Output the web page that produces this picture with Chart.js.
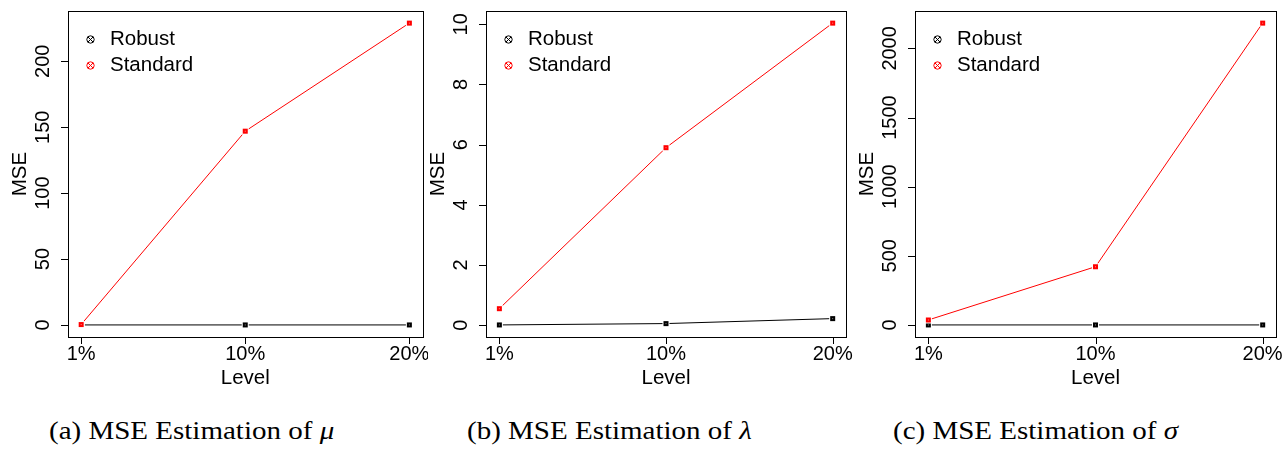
<!DOCTYPE html>
<html>
<head>
<meta charset="utf-8">
<script src="https://cdn.jsdelivr.net/npm/chart.js@4.4.1/dist/chart.umd.min.js"></script>
<style>
  body { margin: 0; background: #fff; width: 1284px; height: 450px; overflow: hidden; position: relative; }
  .pnl { position: absolute; top: 0; }
  .cap { position: absolute; top: 417px; font-family: "Liberation Serif", serif; font-size: 25px; white-space: nowrap;
         color: #000; transform: scaleX(1.16); transform-origin: left top; }
</style>
</head>
<body>
<canvas class="pnl" id="c0" width="428" height="400" style="left:0"></canvas>
<canvas class="pnl" id="c1" width="428" height="400" style="left:428px"></canvas>
<canvas class="pnl" id="c2" width="429" height="400" style="left:855px"></canvas>
<div class="cap" style="left:49px">(a) MSE Estimation of <i>μ</i></div>
<div class="cap" style="left:467px">(b) MSE Estimation of <i>λ</i></div>
<div class="cap" style="left:893px">(c) MSE Estimation of <i>σ</i></div>

<script>
// valores
const levels = ['1%', '10%', '20%'];

const robustMu = [0, 0, 0];
const standardMu = [0.3, 147, 229];
const ticksMu = [0, 50, 100, 150, 200];

const robustLambda = [0.01, 0.055, 0.22];
const standardLambda = [0.55, 5.9, 10.04];
const ticksLambda = [0, 2, 4, 6, 8, 10];

const robustSigma = [0, 0, 0];
const standardSigma = [36, 421, 2183];
const ticksSigma = [0, 500, 1000, 1500, 2000];

const TICK_FONT = '20px "Liberation Sans", Arial, sans-serif';
const LAB_FONT = '20.5px "Liberation Sans", Arial, sans-serif';

// marcador de datos: cuadradito con hueco blanco alrededor (type="b" de R)
function pointMarker(color) {
    const c = document.createElement('canvas');
    c.width = 9; c.height = 9;
    const g = c.getContext('2d');
    g.fillStyle = '#fff'; g.fillRect(1, 1, 7, 7);
    g.fillStyle = color; g.fillRect(2, 2, 5, 5);
    g.fillStyle = 'rgba(255,255,255,0.55)'; g.fillRect(4, 4, 1, 1);
    return c;
}

// marcador de la leyenda: círculo con aspa
function legendMarker(color, size) {
    const c = document.createElement('canvas');
    c.width = size; c.height = size;
    const g = c.getContext('2d');
    const m = size / 2, r = m - 0.8;
    g.strokeStyle = color; g.lineWidth = 1;
    g.beginPath(); g.arc(m, m, r, 0, Math.PI * 2); g.stroke();
    const d = r * 0.7;
    g.beginPath();
    g.moveTo(m - d, m - d); g.lineTo(m + d, m + d);
    g.moveTo(m + d, m - d); g.lineTo(m - d, m + d);
    g.stroke();
    return c;
}

const blackPt = pointMarker('#000'), redPt = pointMarker('#ff0000');
const blackLeg = legendMarker('#000', 9), redLeg = legendMarker('#ff0000', 9);

function toXY(arr) { return arr.map((v, i) => ({ x: i + 1, y: v })); }

// caja, ticks, etiquetas y leyenda al estilo R
const rAxes = {
    id: 'rAxes',
    afterDraw(chart, args, opts) {
        const ctx = chart.ctx, a = chart.chartArea;
        const xs = chart.scales.x, ys = chart.scales.y;
        ctx.save();
        ctx.strokeStyle = '#000'; ctx.lineWidth = 1;
        ctx.strokeRect(Math.round(a.left) + 0.5, Math.round(a.top) + 0.5,
            Math.round(a.right - a.left), Math.round(a.bottom - a.top));

        ctx.fillStyle = '#000';
        // eje x
        ctx.beginPath();
        levels.forEach((l, i) => {
            const px = Math.round(xs.getPixelForValue(i + 1)) + 0.5;
            ctx.moveTo(px, a.bottom); ctx.lineTo(px, a.bottom + 7);
        });
        ctx.stroke();
        ctx.textAlign = 'center'; ctx.textBaseline = 'middle';
        ctx.font = TICK_FONT;
        levels.forEach((l, i) => ctx.fillText(l, xs.getPixelForValue(i + 1), a.bottom + 17));
        ctx.font = LAB_FONT;
        ctx.fillText('Level', (a.left + a.right) / 2, a.bottom + 41);

        // eje y
        ctx.beginPath();
        opts.ticks.forEach(t => {
            const py = Math.round(ys.getPixelForValue(t)) + 0.5;
            ctx.moveTo(a.left, py); ctx.lineTo(a.left - 7, py);
        });
        ctx.stroke();
        ctx.font = TICK_FONT;
        opts.ticks.forEach(t => {
            ctx.save();
            ctx.translate(a.left - 25, ys.getPixelForValue(t));
            ctx.rotate(-Math.PI / 2);
            ctx.fillText(String(t), 0, 0);
            ctx.restore();
        });
        ctx.font = LAB_FONT;
        ctx.save();
        ctx.translate(a.left - 48, (a.top + a.bottom) / 2);
        ctx.rotate(-Math.PI / 2);
        ctx.fillText('MSE', 0, 0);
        ctx.restore();

        // leyenda
        ctx.textAlign = 'left';
        const lx = Math.round(a.left + 22);
        [['Robust', blackLeg, 28], ['Standard', redLeg, 54]].forEach(([txt, img, dy]) => {
            ctx.drawImage(img, lx - 4, Math.round(a.top + dy - 4));
            ctx.fillText(txt, lx + 20, a.top + dy);
        });
        ctx.restore();
    }
};

function makePanel(id, left, right, robust, standard, ticks) {
    const all = robust.concat(standard);
    const lo = Math.min(...all), hi = Math.max(...all);
    const pad = (hi - lo) * 0.04;
    const cv = document.getElementById(id);
    new Chart(cv, {
        type: 'line',
        data: {
            datasets: [
                { label: 'Standard', data: toXY(standard), borderColor: '#ff0000', borderWidth: 1,
                  pointStyle: redPt, pointRadius: 4.5, order: 0 },
                { label: 'Robust', data: toXY(robust), borderColor: '#000', borderWidth: 1,
                  pointStyle: blackPt, pointRadius: 4.5, order: 1 }
            ]
        },
        options: {
            responsive: false,
            animation: false,
            layout: { padding: { top: 11, right: cv.width - right, left: 0, bottom: 0 } },
            plugins: { legend: { display: false }, tooltip: { enabled: false }, rAxes: { ticks } },
            scales: {
                x: { type: 'linear', min: 0.92, max: 3.08, grid: { display: false }, border: { display: false },
                     ticks: { display: false }, afterFit: s => { s.height = 63; } },
                y: { min: lo - pad, max: hi + pad, grid: { display: false }, border: { display: false },
                     ticks: { display: false }, afterFit: s => { s.width = left; } }
            }
        },
        plugins: [rAxes]
    });
}

makePanel('c0', 68, 427, robustMu, standardMu, ticksMu);
makePanel('c1', 58, 418, robustLambda, standardLambda, ticksLambda);
makePanel('c2', 60, 421, robustSigma, standardSigma, ticksSigma);
</script>
</body>
</html>
